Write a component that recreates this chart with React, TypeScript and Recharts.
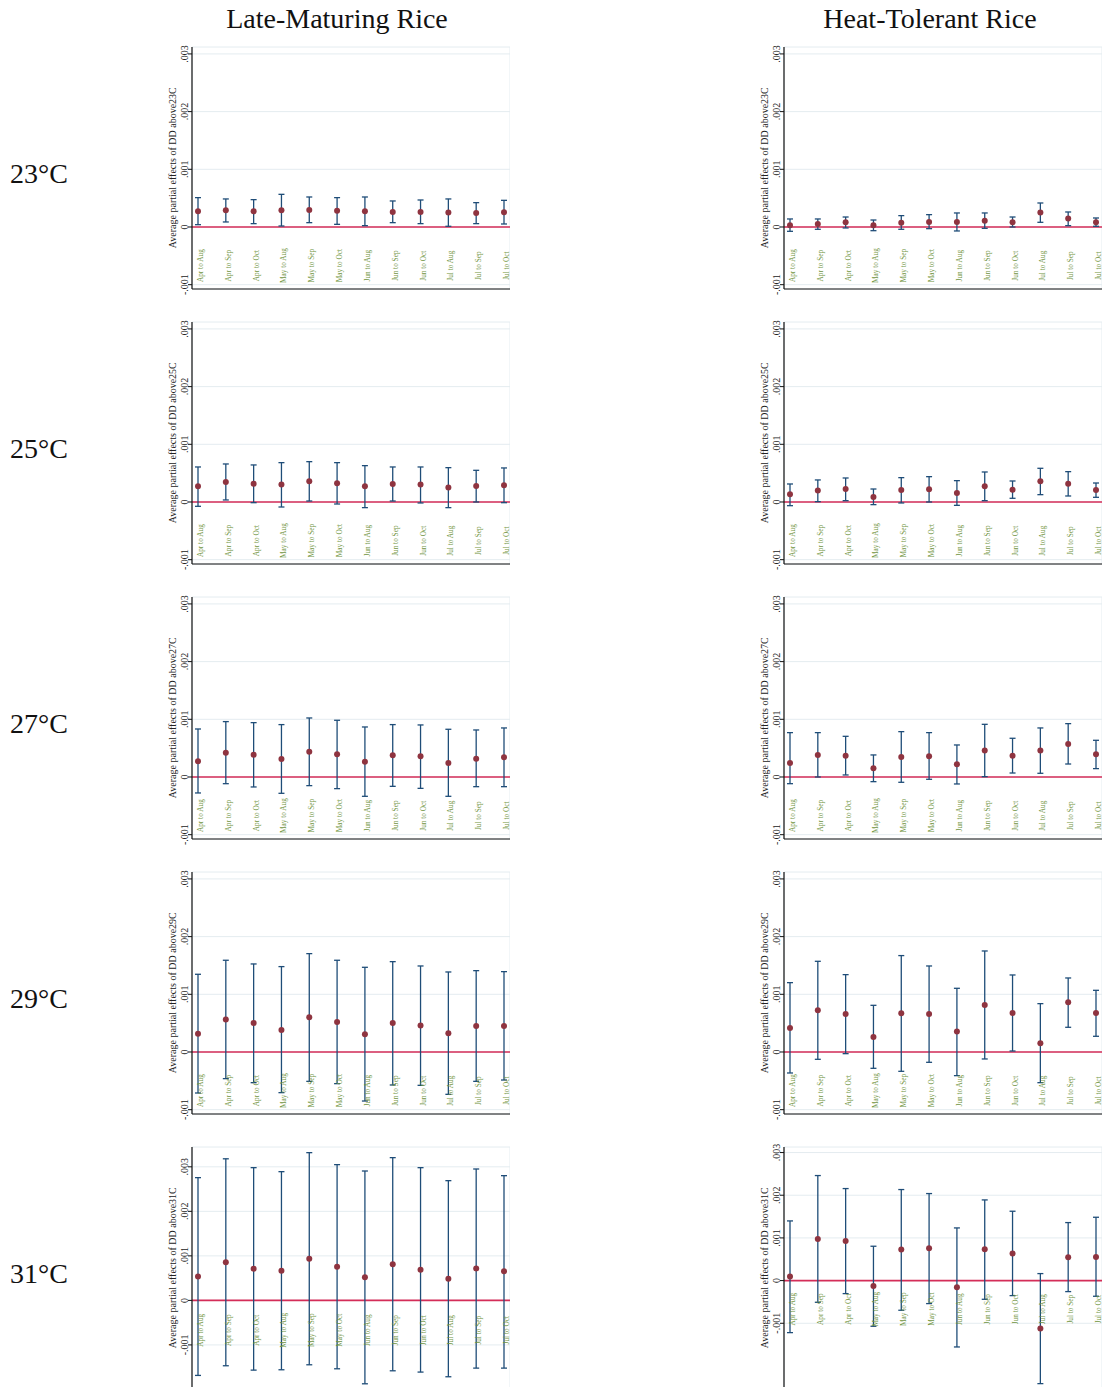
import {
    ComposedChart,
    Scatter,
    ErrorBar,
    XAxis,
    YAxis,
    CartesianGrid,
    ReferenceLine,
} from "recharts";

// --- CATEGORIES ---
const periods = [
    "Apr to Aug", "Apr to Sep", "Apr to Oct",
    "May to Aug", "May to Sep", "May to Oct",
    "Jun to Aug", "Jun to Sep", "Jun to Oct",
    "Jul to Aug", "Jul to Sep", "Jul to Oct",
];
const thresholds = ["23", "25", "27", "29", "31"];
const columnTitles = ["Late-Maturing Rice", "Heat-Tolerant Rice"];
const yTicks = [-0.001, 0, 0.001, 0.002, 0.003];

// --- LATE-MATURING RICE: estimate, lower / upper 95% bound ---
const late23Est = [0.000272, 0.000289, 0.000272, 0.000289, 0.000295, 0.000283, 0.000272, 0.00026, 0.00026, 0.000249, 0.000243, 0.000254];
const late23Lo = [0.00004, 0.000087, 0.000058, 0.000017, 0.000075, 0.000046, 0.000023, 0.000075, 0.000058, 0.000012, 0.000058, 0.000052];
const late23Hi = [0.000509, 0.000486, 0.000474, 0.000566, 0.00052, 0.000509, 0.00052, 0.000451, 0.000468, 0.000486, 0.000422, 0.000462];

const late25Est = [0.000272, 0.000347, 0.000318, 0.000301, 0.000358, 0.000324, 0.000272, 0.000312, 0.000301, 0.000249, 0.000277, 0.000289];
const late25Lo = [-0.000075, 0.000035, -0.000012, -0.000087, 0.000017, -0.000035, -0.000098, 0.000017, -0.000017, -0.000098, 0.0, -0.000012];
const late25Hi = [0.000607, 0.000659, 0.000642, 0.000682, 0.000699, 0.000682, 0.00063, 0.000607, 0.000607, 0.000595, 0.000549, 0.00059];

const late27Est = [0.000272, 0.000422, 0.000387, 0.000312, 0.000439, 0.000393, 0.000266, 0.000376, 0.000358, 0.000243, 0.000318, 0.000341];
const late27Lo = [-0.000277, -0.000116, -0.000173, -0.000283, -0.00015, -0.000202, -0.000335, -0.000162, -0.000197, -0.000335, -0.000168, -0.000168];
const late27Hi = [0.000832, 0.00096, 0.000942, 0.000908, 0.001023, 0.000983, 0.000867, 0.000908, 0.000902, 0.000827, 0.000815, 0.00085];

const late29Est = [0.000318, 0.000561, 0.000503, 0.000382, 0.000601, 0.00052, 0.000306, 0.000503, 0.000457, 0.000324, 0.000451, 0.000451];
const late29Lo = [-0.000711, -0.000462, -0.000532, -0.000705, -0.000509, -0.000549, -0.00085, -0.000572, -0.000578, -0.000734, -0.000509, -0.000486];
const late29Hi = [0.001347, 0.00159, 0.001526, 0.00148, 0.001705, 0.00159, 0.001468, 0.001566, 0.001491, 0.001387, 0.00141, 0.001393];

const late31Est = [0.000539, 0.000854, 0.000712, 0.000667, 0.000936, 0.000757, 0.000517, 0.000809, 0.000689, 0.000487, 0.000719, 0.000652];
const late31Lo = [-0.001685, -0.001468, -0.001566, -0.001558, -0.001446, -0.001536, -0.001873, -0.001581, -0.00161, -0.001715, -0.001521, -0.001521];
const late31Hi = [0.002757, 0.00318, 0.002981, 0.002891, 0.003318, 0.003049, 0.002906, 0.003206, 0.002981, 0.002689, 0.002951, 0.002801];

// --- HEAT-TOLERANT RICE ---
const heat23Est = [0.000029, 0.000052, 0.000081, 0.000029, 0.000075, 0.000087, 0.000087, 0.00011, 0.000081, 0.000249, 0.000145, 0.000081];
const heat23Lo = [-0.000075, -0.00004, -0.000017, -0.000064, -0.00004, -0.000029, -0.000069, -0.000023, 0.0, 0.000081, 0.000023, 0.000012];
const heat23Hi = [0.000139, 0.000139, 0.000173, 0.000121, 0.000197, 0.000214, 0.000243, 0.000243, 0.000173, 0.000416, 0.00026, 0.000156];

const heat25Est = [0.000133, 0.000197, 0.000225, 0.000087, 0.000208, 0.00022, 0.000156, 0.000272, 0.000214, 0.000358, 0.000318, 0.000208];
const heat25Lo = [-0.000064, 0.000006, 0.000023, -0.000046, -0.000017, 0.0, -0.000058, 0.000023, 0.000064, 0.000127, 0.000104, 0.000081];
const heat25Hi = [0.000312, 0.000382, 0.000416, 0.000225, 0.000422, 0.000439, 0.00037, 0.00052, 0.000364, 0.000584, 0.000526, 0.000329];

const heat27Est = [0.000243, 0.000382, 0.00037, 0.00015, 0.000347, 0.000358, 0.00022, 0.000457, 0.00037, 0.000457, 0.000572, 0.000393];
const heat27Lo = [-0.000116, 0.0, 0.000035, -0.000081, -0.000092, -0.00004, -0.000121, 0.000006, 0.000069, 0.000064, 0.000225, 0.000145];
const heat27Hi = [0.000769, 0.000769, 0.000705, 0.000382, 0.000786, 0.000769, 0.000555, 0.000913, 0.000671, 0.00085, 0.000925, 0.000636];

const heat29Est = [0.000416, 0.000723, 0.000659, 0.00026, 0.000671, 0.000659, 0.000353, 0.000815, 0.000676, 0.00015, 0.000861, 0.000676];
const heat29Lo = [-0.000364, -0.000127, -0.000029, -0.000283, -0.000335, -0.000179, -0.00041, -0.000121, 0.000017, -0.000532, 0.000428, 0.000272];
const heat29Hi = [0.001202, 0.001572, 0.001341, 0.000809, 0.001671, 0.001491, 0.001104, 0.001751, 0.001335, 0.000838, 0.001283, 0.001069];

const heat31Est = [0.000094, 0.000977, 0.00093, -0.000125, 0.000727, 0.000758, -0.000156, 0.000734, 0.000633, -0.001125, 0.000547, 0.000555];
const heat31Lo = [-0.001219, -0.000508, -0.000305, -0.00107, -0.000695, -0.000539, -0.001555, -0.000438, -0.000352, -0.002414, -0.000258, -0.000367];
const heat31Hi = [0.001398, 0.002461, 0.002156, 0.000805, 0.002133, 0.002039, 0.001234, 0.00189, 0.001625, 0.000164, 0.001359, 0.001484];

// --- LAYOUT ---
const SERIF = '"Liberation Serif", "Times New Roman", serif';
const PLOT_H = 242;
const TOP_PAD = 12;
const BOTTOM_PAD = 12;
const AXIS_W = 32;
const CHART_W = 350;
const COL_LEFT = [160, 752];
const ROW_TOP = [46.7, 321.7, 596.7, 871.7, 1146.7];
const LABEL_Y = -0.00067; // where the period names sit, in data units

const baseDomain: [number, number] = [-0.001075, 0.00312];

interface PanelDef {
    est: number[];
    lo: number[];
    hi: number[];
    domain: [number, number];
}

const panels: PanelDef[][] = [
    [
        { est: late23Est, lo: late23Lo, hi: late23Hi, domain: baseDomain },
        { est: heat23Est, lo: heat23Lo, hi: heat23Hi, domain: baseDomain },
    ],
    [
        { est: late25Est, lo: late25Lo, hi: late25Hi, domain: baseDomain },
        { est: heat25Est, lo: heat25Lo, hi: heat25Hi, domain: baseDomain },
    ],
    [
        { est: late27Est, lo: late27Lo, hi: late27Hi, domain: baseDomain },
        { est: heat27Est, lo: heat27Lo, hi: heat27Hi, domain: baseDomain },
    ],
    [
        { est: late29Est, lo: late29Lo, hi: late29Hi, domain: baseDomain },
        { est: heat29Est, lo: heat29Lo, hi: heat29Hi, domain: baseDomain },
    ],
    [
        { est: late31Est, lo: late31Lo, hi: late31Hi, domain: [-0.00199, 0.003445] },
        { est: heat31Est, lo: heat31Lo, hi: heat31Hi, domain: [-0.00254, 0.00313] },
    ],
];

// stata-style labels: .003, -.001, 0
const fmtTick = (v: number) => {
    if (Math.abs(v) < 1e-12) return "0";
    return (v < 0 ? "-" : "") + Math.abs(v).toFixed(3).replace(/^0/, "");
};

const YTick = (props: any) => {
    const { x, y, payload } = props;
    return (
        <text
            transform={`translate(${x},${y}) rotate(-90)`}
            textAnchor="middle"
            fontFamily={SERIF}
            fontSize={10}
            fill="#222"
        >
            {fmtTick(payload.value)}
        </text>
    );
};

const Marker = (props: any) => {
    const { cx, cy } = props;
    if (cx == null || cy == null) return null;
    return <circle cx={cx} cy={cy} r={3} fill="#8f3440" />;
};

const PeriodLabel = (props: any) => {
    const { cx, cy, payload } = props;
    if (cx == null || cy == null) return null;
    return (
        <text
            transform={`translate(${cx + 5},${cy}) rotate(-90)`}
            textAnchor="middle"
            fontFamily={SERIF}
            fontSize={7.3}
            fill="#6f9440"
        >
            {payload.period}
        </text>
    );
};

function Panel({ def, left, top }: { def: PanelDef; left: number; top: number }) {
    const data = periods.map((p, i) => ({
        period: p,
        est: def.est[i],
        err: [def.est[i] - def.lo[i], def.hi[i] - def.est[i]],
        labelY: LABEL_Y,
    }));

    return (
        <div style={{ position: "absolute", left, top: top - TOP_PAD }}>
            <ComposedChart
                width={CHART_W}
                height={PLOT_H + TOP_PAD + 1 + BOTTOM_PAD}
                data={data}
                margin={{ top: TOP_PAD, right: 0, bottom: BOTTOM_PAD, left: 0 }}
            >
                <CartesianGrid stroke="#e4ecf0" strokeWidth={1} />
                <XAxis
                    dataKey="period"
                    type="category"
                    scale="point"
                    padding={{ left: 6, right: 6 }}
                    height={1}
                    tick={false}
                    tickLine={false}
                    axisLine={{ stroke: "#111", strokeWidth: 1.2 }}
                />
                <YAxis
                    type="number"
                    domain={def.domain}
                    allowDataOverflow
                    ticks={yTicks}
                    interval={0}
                    width={AXIS_W}
                    tickSize={4}
                    tickMargin={0}
                    tick={YTick}
                    axisLine={{ stroke: "#111", strokeWidth: 1.2 }}
                    tickLine={{ stroke: "#111" }}
                />
                <ReferenceLine y={0} stroke="#d42d58" strokeWidth={1.7} />
                <Scatter dataKey="labelY" shape={PeriodLabel} isAnimationActive={false} />
                <Scatter dataKey="est" shape={Marker} isAnimationActive={false}>
                    <ErrorBar
                        dataKey="err"
                        direction="y"
                        width={3}
                        stroke="#1f4d78"
                        strokeWidth={1.3}
                        isAnimationActive={false}
                    />
                </Scatter>
            </ComposedChart>
        </div>
    );
}

export default function App() {
    return (
        <div
            style={{
                position: "absolute",
                left: 0,
                top: 0,
                width: 1102,
                height: 1387,
                overflow: "hidden",
                background: "#fff",
            }}
        >
            {panels.map((row, r) =>
                row.map((def, c) => (
                    <Panel key={`${r}-${c}`} def={def} left={COL_LEFT[c]} top={ROW_TOP[r]} />
                ))
            )}
            <svg
                width={1102}
                height={1387}
                style={{ position: "absolute", left: 0, top: 0, pointerEvents: "none" }}
            >
                {columnTitles.map((t, c) => (
                    <text
                        key={t}
                        x={c === 0 ? 337 : 930}
                        y={28}
                        textAnchor="middle"
                        fontFamily={SERIF}
                        fontSize={28}
                        fill="#111"
                    >
                        {t}
                    </text>
                ))}
                {thresholds.map((t, r) => (
                    <text
                        key={t}
                        x={10}
                        y={ROW_TOP[r] + 136.6}
                        fontFamily={SERIF}
                        fontSize={28}
                        fill="#111"
                    >
                        {`${t}°C`}
                    </text>
                ))}
                {thresholds.map((t, r) =>
                    COL_LEFT.map((cl) => {
                        const x = cl + 15.5;
                        const y = ROW_TOP[r] + PLOT_H / 2;
                        return (
                            <text
                                key={`${t}-${cl}`}
                                transform={`translate(${x},${y}) rotate(-90)`}
                                textAnchor="middle"
                                fontFamily={SERIF}
                                fontSize={10}
                                fill="#222"
                            >
                                {`Average partial effects of DD above${t}C`}
                            </text>
                        );
                    })
                )}
            </svg>
        </div>
    );
}
